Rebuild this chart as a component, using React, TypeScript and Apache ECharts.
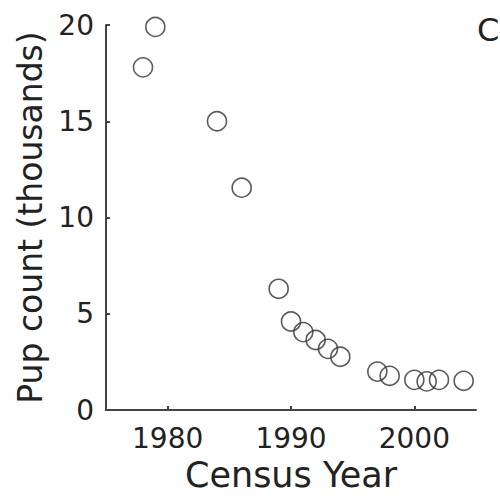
import React, { useEffect, useRef } from "react";
import * as echarts from "echarts";

const years = [1978, 1979, 1984, 1986, 1989, 1990, 1991, 1992, 1993, 1994, 1997, 1998, 2000, 2001, 2002, 2004];
const pups = [17.8, 19.9, 15.0, 11.55, 6.3, 4.6, 4.05, 3.64, 3.18, 2.77, 2.0, 1.78, 1.57, 1.49, 1.57, 1.52];
const xTicks = [1980, 1990, 2000];
const yTicks = [0, 5, 10, 15, 20];

export default function App() {
  const ref = useRef<HTMLDivElement>(null);
  useEffect(() => {
    if (!ref.current) return;
    const chart = echarts.init(ref.current, null, { renderer: "svg" });
    const font = "DejaVu Sans, Arial, sans-serif";
    const axisColor = "#444";
    chart.setOption({
      animation: false,
      backgroundColor: "#fff",
      grid: { left: 106, top: 25, right: 24, bottom: 83, containLabel: false },
      xAxis: {
        type: "value",
        min: 1975,
        max: 2005,
        interval: 5,
        name: "Census Year",
        nameLocation: "middle",
        nameGap: 44,
        nameTextStyle: { fontFamily: font, fontSize: 35, color: "#222" },
        axisLine: { show: true, lineStyle: { color: axisColor, width: 2 } },
        axisTick: { show: true, inside: true, length: 4, lineStyle: { color: axisColor, width: 2 }, customValues: xTicks },
        axisLabel: {
          fontFamily: font, fontSize: 28, color: "#222", margin: 14,
          customValues: xTicks,
          formatter: (v: number) => String(v),
        },
        splitLine: { show: false },
      },
      yAxis: {
        type: "value",
        min: 0,
        max: 20,
        interval: 5,
        name: "Pup count (thousands)",
        nameLocation: "middle",
        nameGap: 56,
        nameTextStyle: { fontFamily: font, fontSize: 33, color: "#222" },
        axisLine: { show: true, lineStyle: { color: axisColor, width: 2 } },
        axisTick: { show: true, inside: true, length: 4, lineStyle: { color: axisColor, width: 2 } },
        axisLabel: {
          fontFamily: font, fontSize: 28, color: "#222", margin: 12,
          customValues: yTicks,
        },
        splitLine: { show: false },
      },
      graphic: [
        {
          type: "text",
          left: 477,
          top: 14,
          style: { text: "C", fontFamily: font, fontSize: 32, fill: "#222" },
        },
      ],
      series: [
        {
          type: "scatter",
          data: years.map((y, i) => [y, pups[i]]),
          symbol: "circle",
          symbolSize: 19,
          itemStyle: { color: "transparent", borderColor: "#333", borderWidth: 1.6 },
          clip: false,
        },
      ],
    });
    return () => chart.dispose();
  }, []);
  return <div ref={ref} style={{ position: "absolute", left: 0, top: 0, width: 500, height: 497 }} />;
}
